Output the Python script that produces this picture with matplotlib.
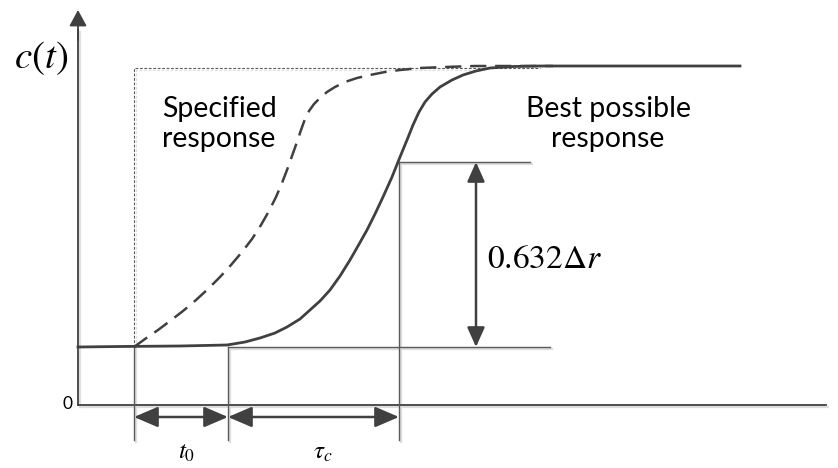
import matplotlib.pyplot as plt

# Response curves, read in drawing units (x to the right, y downwards)
best_x = [78, 120, 180, 227, 245, 260, 275, 287, 300, 310, 320, 330, 340, 350, 358,
          367, 375, 383, 392, 400, 407, 413, 419, 425, 432, 440, 452, 463, 476, 490,
          513, 540, 600, 680, 740]
best_y = [347, 346.5, 346, 345, 342, 338, 333, 327, 319, 310, 301, 290, 276, 260, 246,
          230, 214, 197, 177, 157, 140, 125, 112, 102, 94, 87, 80, 75, 71, 68,
          66.5, 66, 66, 66, 66]

spec_x = [134, 145, 158, 170, 183, 196, 208, 220, 231, 242, 252, 261, 269, 276, 282,
          287, 292, 297, 301, 305, 309, 314, 320, 327, 335, 345, 357, 370, 385, 400,
          420, 445, 475, 510, 553]
spec_y = [347, 339, 330, 321, 311, 300, 289, 277, 265, 252, 239, 225, 211, 197, 183,
          170, 156, 142, 130, 119, 111, 104, 98, 92, 87, 82, 78, 75, 72, 70,
          68, 67, 66, 66, 66]

base_y = 347
step_y = 68
t_start = 134
t_dead = 228
t_63 = 399
y_63 = 162
dim_y = 417
dark = '#404040'
thin = '#5a5a5a'
shadow = '#dedede'

fig = plt.figure(figsize=(8.38, 4.68), dpi=100)
ax = fig.add_axes([0, 0, 1, 1])
ax.set_xlim(0, 838)
ax.set_ylim(468, 0)
ax.axis('off')


def line(xs, ys, **kw):
    # thin construction line with a soft shadow behind it
    ax.plot([x + 2 for x in xs], [y + 2 for y in ys], color=shadow, lw=1.6, zorder=1)
    ax.plot(xs, ys, color=kw.pop('color', thin), lw=kw.pop('lw', 1.0), zorder=2, **kw)


def dim_arrow(p0, p1, hl=1.05, hw=0.45):
    ax.annotate('', xy=p1, xytext=p0,
                arrowprops=dict(arrowstyle=f'<|-|>,head_length={hl},head_width={hw}',
                                mutation_scale=14, color=dark, lw=1.8,
                                shrinkA=0, shrinkB=0), zorder=4)


def axis_head(p0, p1):
    ax.annotate('', xy=p1, xytext=p0,
                arrowprops=dict(arrowstyle='-|>,head_length=0.7,head_width=0.38',
                                mutation_scale=14, color=dark, lw=1.3,
                                shrinkA=0, shrinkB=0))


# axes with arrow heads
line([78, 78], [405, 30], color=dark, lw=1.3)
line([78, 826], [405, 405], color=dark, lw=1.3)
axis_head((78, 40), (78, 10))
axis_head((810, 405), (843, 405))

# step reference (dotted)
ax.plot([t_start, t_start, 540], [base_y, step_y, step_y], color=thin, lw=0.8,
        linestyle=(0, (2.5, 1.5)), zorder=2)
ax.plot([t_start + 2, t_start + 2, 480], [base_y, step_y + 2, step_y + 2], color=shadow,
        lw=0.8, linestyle=(0, (2.5, 1.5)), zorder=1)

# construction lines
line([t_start, t_start], [base_y, 440])
line([t_dead, t_dead], [base_y, 440])
line([t_63, t_63], [y_63, 440])
line([t_dead, 550], [base_y, base_y])
line([t_63 - 2, 530], [y_63, y_63])

# responses
ax.plot(spec_x, spec_y, color=dark, lw=1.8, linestyle=(0, (6.5, 3.5)), zorder=3)
ax.plot(best_x, best_y, color=dark, lw=2.0, zorder=3)

# dimension arrows
dim_arrow((t_start, dim_y), (t_dead, dim_y))
dim_arrow((t_dead, dim_y), (t_63, dim_y))
dim_arrow((476, y_63), (476, base_y), hl=0.85, hw=0.38)

# labels
ax.text(41, 58, r'$c(t)$', fontsize=28, ha='center', va='center', math_fontfamily='stix')
ax.text(67, 404, '0', fontsize=12.5, ha='center', va='center', family='Lato')
ax.text(187, 452, r'$t_0$', fontsize=18, ha='center', va='center', math_fontfamily='stix')
ax.text(323, 452, r'$\tau_c$', fontsize=18, ha='center', va='center', math_fontfamily='stix')
ax.text(487, 258, r'$0.632\Delta r$', fontsize=24, ha='left', va='center',
        math_fontfamily='stix')
ax.text(162, 124, 'Specified\nresponse', fontsize=20.5, ha='left', va='center',
        family='Lato', linespacing=1.2)
ax.text(608, 124, 'Best possible\nresponse', fontsize=20.5, ha='center', va='center',
        family='Lato', linespacing=1.2)

fig.savefig('out.png', dpi=100)
